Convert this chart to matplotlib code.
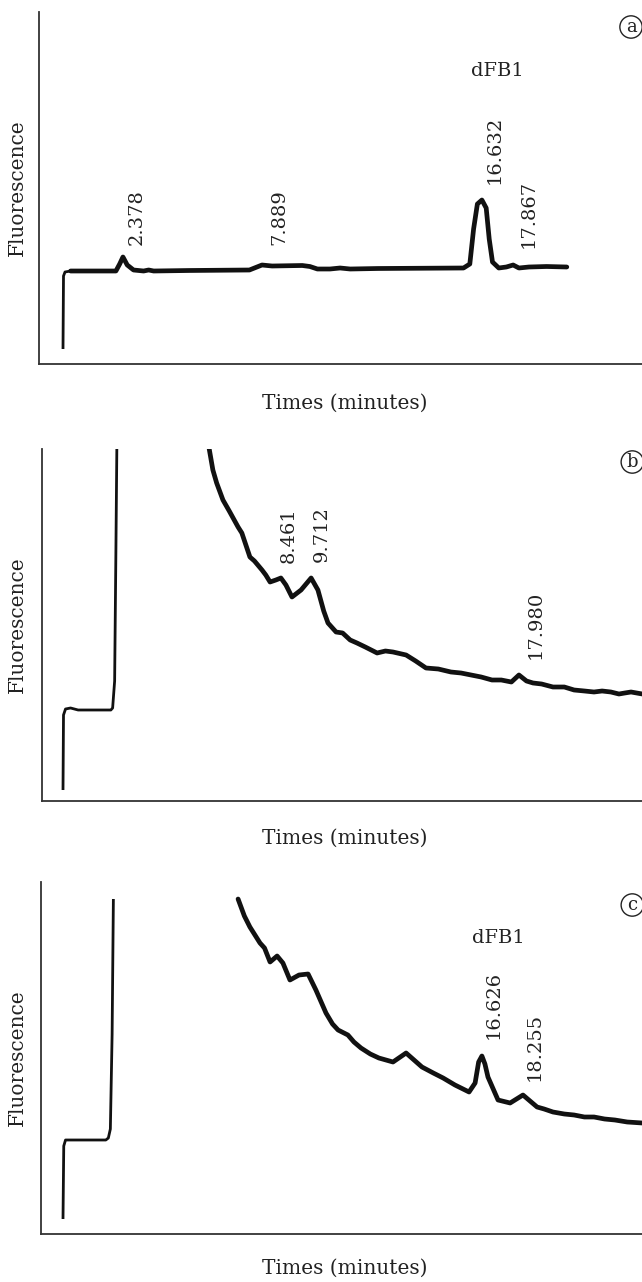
import numpy as np
import matplotlib
matplotlib.use("Agg")
import matplotlib.pyplot as plt

plt.rcParams['font.family'] = ['DejaVu Serif']

# ---------------- data (time in minutes, fluorescence in arbitrary units) ----------------
t_a = [0.0, 0.02, 0.08, 0.3, 1.2, 2.1, 2.25, 2.38, 2.55, 2.8, 3.2, 3.4, 3.6, 5.0, 7.4, 7.7,
       7.9, 8.3, 9.5, 9.8, 10.1, 10.6, 11.0, 11.4, 12.5, 15.9, 16.15, 16.3, 16.45, 16.63, 16.8,
       16.92, 17.05, 17.3, 17.6, 17.87, 18.1, 18.5, 19.2, 20.0]
f_a = [15, 88, 92, 93, 93, 93, 100, 107, 99, 94, 93, 94, 93, 93.5, 94, 97,
       99, 98, 98.5, 97.5, 95, 95, 96, 95, 95.5, 96, 100, 135, 160, 164, 156,
       125, 102, 96, 97, 99, 96, 97, 97.5, 97]

t_b = [0.0, 0.02, 0.1, 0.3, 0.6, 1.9, 1.97, 2.05, 2.1, 2.14, np.nan,
       5.75, 5.95, 6.1, 6.35, 6.6, 6.95, 7.1, 7.42, 7.6, 7.9, 8.05, 8.22, 8.45, 8.65, 8.85,
       9.09, 9.45, 9.85, 10.12, 10.35, 10.52, 10.84, 11.1, 11.4, 11.67, 12.0, 12.47, 12.8,
       13.1, 13.62, 14.0, 14.41, 14.9, 15.4, 15.8, 16.2, 16.6, 17.03, 17.4, 17.8, 18.1, 18.4,
       18.66, 19.0, 19.45, 19.9, 20.29, 20.7, 21.08, 21.4, 21.75, 22.07, 22.3, 22.55, 23.0]
f_b = [11, 86, 92, 93, 91, 91, 93, 120, 250, 360, np.nan,
       360, 331, 318, 301, 290, 274, 268, 244, 240, 231, 226, 219, 221, 223, 216,
       204, 211, 223, 211, 190, 178, 169, 168, 161, 158, 154, 148, 150,
       149, 146, 140, 133, 132, 129, 128, 126, 124, 121, 121, 119, 126, 120,
       118, 117, 114, 114, 111, 110, 109, 110, 109, 107, 108, 109, 107]

t_c = [0.0, 0.03, 0.1, 1.7, 1.8, 1.88, 1.95, 2.0, np.nan,
       6.95, 7.2, 7.42, 7.82, 8.0, 8.22, 8.5, 8.73, 9.01, 9.37, 9.73, 10.04, 10.44, 10.7,
       10.92, 11.31, 11.55, 11.83, 12.2, 12.54, 13.1, 13.62, 14.25, 14.7, 15.09, 15.56,
       16.12, 16.36, 16.5, 16.63, 16.75, 16.87, 17.27, 17.75, 18.26, 18.82, 19.1, 19.45,
       19.9, 20.29, 20.7, 21.08, 21.5, 21.91, 22.4, 23.0]
f_c = [15, 88, 94, 94, 96, 105, 200, 335, np.nan,
       335, 318, 307, 291, 286, 272, 278, 271, 254, 259, 260, 244, 221, 210,
       204, 199, 192, 186, 180, 176, 172, 181, 167, 161, 156, 149,
       142, 151, 172, 178, 170, 157, 134, 131, 139, 127, 125, 122,
       120, 119, 117, 117, 115, 114, 112, 111]

peaks_a = [("2.378", 2.94, 147), ("7.889", 8.57, 147), ("16.632", 17.15, 214), ("17.867", 18.5, 150)]
peaks_b = [("8.461", 8.97, 266), ("9.712", 10.28, 267), ("17.980", 18.78, 176)]
peaks_c = [("16.626", 17.11, 229), ("18.255", 18.74, 187)]

# ---------------- layout ----------------
W, H = 642, 1282
fig = plt.figure(figsize=(W / 100, H / 100), dpi=100)

px_per_min = 25.19
t0_px = 63.0

panels = [
    dict(t=t_a, f=f_a, left=38.7, top=12, bottom=364, peaks=peaks_a, letter="a",
         letter_pos=(22.55, 337), dfb=(17.23, 293), xlab_y=403),
    dict(t=t_b, f=f_b, left=41.7, top=449, bottom=801, peaks=peaks_b, letter="b",
         letter_pos=(22.6, 339), dfb=None, xlab_y=838),
    dict(t=t_c, f=f_c, left=41.0, top=882, bottom=1234, peaks=peaks_c, letter="c",
         letter_pos=(22.6, 329), dfb=(17.27, 296), xlab_y=1268),
]

for p in panels:
    axl = p["left"] / W
    axb = (H - p["bottom"]) / H
    axh = (p["bottom"] - p["top"]) / H
    ax = fig.add_axes([axl, axb, 1.0 - axl, axh])
    ax.set_xlim((p["left"] - t0_px) / px_per_min, (W - t0_px) / px_per_min)
    ax.set_ylim(0, p["bottom"] - p["top"])
    t = np.array(p["t"], dtype=float)
    f = np.array(p["f"], dtype=float)
    if np.isnan(t).any():
        idx = int(np.where(np.isnan(t))[0][0]) - 1
    else:
        idx = int(np.where(t <= 0.3)[0][-1])
    t1 = t.copy(); f1 = f.copy()
    t1[idx + 1:] = np.nan
    ax.plot(t1, f1, color="#111111", lw=2.0, solid_capstyle="butt", solid_joinstyle="round")
    t2 = t.copy(); f2 = f.copy()
    t2[:idx] = np.nan
    ax.plot(t2, f2, color="#111111", lw=3.4, solid_joinstyle="round", solid_capstyle="round")
    for s in ("top", "right"):
        ax.spines[s].set_visible(False)
    for s in ("left", "bottom"):
        ax.spines[s].set_linewidth(1.3)
        ax.spines[s].set_color("#333333")
    ax.set_xticks([]); ax.set_yticks([])
    for lab, x, y in p["peaks"]:
        ax.text(x, y, lab, rotation=90, ha="center", va="center", fontsize=14, color="#222222")
    if p["dfb"] is not None:
        ax.text(p["dfb"][0], p["dfb"][1], "dFB1", ha="center", va="center", fontsize=14,
                color="#222222")
    ax.text(p["letter_pos"][0], p["letter_pos"][1], p["letter"], ha="center", va="center",
            fontsize=13, color="#222222",
            bbox=dict(boxstyle="circle,pad=0.12", fc="white", ec="#222222", lw=1.0))
    fig.text(345 / W, (H - p["xlab_y"]) / H, "Times (minutes)", ha="center", va="center",
             fontsize=14.5, color="#222222")
    fig.text(17 / W, (H - (p["top"] + p["bottom"]) / 2) / H, "Fluorescence", rotation=90,
             ha="center", va="center", fontsize=14.5, color="#222222")

fig.savefig("out.png", dpi=100)
